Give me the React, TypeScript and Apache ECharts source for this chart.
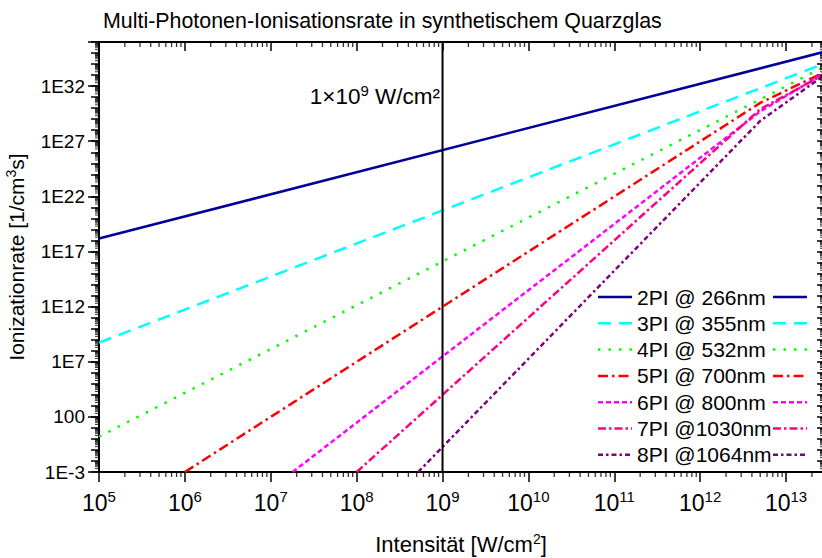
import React, { useEffect, useRef } from "react";
import * as echarts from "echarts";

const seriesNames = [
  "2PI @ 266nm",
  "3PI @ 355nm",
  "4PI @ 532nm",
  "5PI @ 700nm",
  "6PI @ 800nm",
  "7PI @1030nm",
  "8PI @1064nm",
];
const seriesColors = ["#000099", "#00FFFF", "#00FF00", "#FF0000", "#FF00FF", "#FF0080", "#800080"];
const seriesDash: (string | number[])[] = ["solid", [13, 8], [2.5, 8], [10, 4, 2.5, 4], [5, 3], [8, 3, 2.5, 3], [5, 3, 2.5, 3]];
const seriesWidth = [2.5, 2.5, 2.5, 2.5, 2.5, 2.5, 2.5];

// Points (intensity W/cm², rate 1/cm³s)
const rate2PI = [[1e5, 1.5e18], [2.69e13, 1.2e35]];
const rate3PI = [[1e5, 5.4e8], [2.69e13, 1.0e34]];
const rate4PI = [[1e5, 1.6], [2.69e13, 5e33]];
const rate5PI = [[1e6, 1e-3], [5e12, 3e30], [2.69e13, 1.6e33]];
const rate6PI = [[1.8e7, 1e-3], [5e12, 5e29], [2.69e13, 1.3e33]];
const rate7PI = [[1e8, 1e-3], [5e12, 8e29], [2.69e13, 1.0e33]];
const rate8PI = [[5.2e8, 1e-3], [5e12, 7e28], [2.69e13, 8e32]];
const seriesPoints = [rate2PI, rate3PI, rate4PI, rate5PI, rate6PI, rate7PI, rate8PI];

const markerIntensity = [1e9, 1e9];
const markerRate = [1e-3, 1e36];

const xTickExponents = [5, 6, 7, 8, 9, 10, 11, 12, 13];
const yTickLabels = ["1E-3", "100", "1E7", "1E12", "1E17", "1E22", "1E27", "1E32"];

const X_MIN = 5;
const X_MAX = 13.43;
const Y_MIN = -3;
const Y_MAX = 36;

const FONT = "'Liberation Sans', Arial, sans-serif";

function subTicks(lo: number, hi: number): number[] {
  const out: number[] = [];
  for (let n = Math.floor(lo); n <= Math.ceil(hi); n++) {
    for (let k = 2; k <= 9; k++) {
      const v = n + Math.log10(k);
      if (v >= lo && v <= hi) out.push(v);
    }
  }
  return out;
}

export default function App() {
  const ref = useRef<HTMLDivElement>(null);
  useEffect(() => {
    if (!ref.current) return;
    const chart = echarts.init(ref.current, null, { renderer: "svg" });
    const axisLine = { show: true, onZero: false, lineStyle: { color: "#000", width: 2 } };
    const noLine = { show: false, onZero: false };
    const baseX = { type: "value", min: X_MIN, max: X_MAX, gridIndex: 0, splitLine: { show: false } };
    const baseY = { type: "value", min: Y_MIN, max: Y_MAX, gridIndex: 0, splitLine: { show: false } };
    const xSub = subTicks(X_MIN, X_MAX);
    const ySub = subTicks(Y_MIN, Y_MAX);
    const sup = { fontSize: 14, fontFamily: FONT, color: "#000", verticalAlign: "top", lineHeight: 14 };

    const lineSeries = seriesNames.map((name, i) => ({
      name,
      type: "line",
      xAxisIndex: 0,
      yAxisIndex: 0,
      symbol: "none",
      data: seriesPoints[i].map(([x, y]) => [Math.log10(x), Math.log10(y)]),
      lineStyle: { color: seriesColors[i], width: seriesWidth[i], type: seriesDash[i] },
      itemStyle: { color: seriesColors[i] },
      z: 3 + i,
    }));

    const tickSeries = (data: number[][], size: number[], offset: number[]) => ({
      type: "scatter",
      xAxisIndex: 0,
      yAxisIndex: 0,
      symbol: "rect",
      symbolSize: size,
      symbolOffset: offset,
      clip: false,
      silent: true,
      itemStyle: { color: "#000" },
      data,
      z: 12,
    });

    const legendY0 = 297;
    const rowH = 26.3;

    const option: any = {
      animation: false,
      backgroundColor: "#fff",
      title: {
        text: "Multi-Photonen-Ionisationsrate in synthetischem Quarzglas",
        left: 103,
        top: 10,
        padding: 0,
        textStyle: { fontSize: 21.4, fontWeight: "normal", color: "#000", fontFamily: FONT },
      },
      grid: { left: 99, top: 42, right: -1, bottom: 86, containLabel: false, outerBoundsMode: "none" },
      xAxis: [
        {
          ...baseX,
          position: "bottom",
          interval: 1,
          axisLine,
          axisTick: { show: true, length: 10, lineStyle: { color: "#000", width: 1.5 } },
          axisLabel: {
            show: true,
            margin: 17,
            formatter: (v: number) => `{b|10}{s|${xTickExponents[Math.round(v - X_MIN)]}}`,
            rich: {
              b: { fontSize: 23, fontFamily: FONT, color: "#000", lineHeight: 28 },
              s: { ...sup, fontSize: 15, lineHeight: 15 },
            },
          },
          name: "Intensität [W/cm{s|2}]",
          nameLocation: "middle",
          nameGap: 60,
          nameTextStyle: {
            fontSize: 22,
            fontFamily: FONT,
            color: "#000",
            lineHeight: 24,
            rich: { s: { ...sup, fontSize: 14 } },
          },
        },
        {
          ...baseX,
          position: "top",
          interval: 1,
          axisLine,
          axisLabel: { show: false },
          axisTick: { show: true, inside: true, length: 9, lineStyle: { color: "#000", width: 1.5 } },
        },
      ],
      yAxis: [
        {
          ...baseY,
          position: "left",
          interval: 5,
          axisLine,
          axisTick: { show: true, length: 11, lineStyle: { color: "#000", width: 1.5 } },
          axisLabel: {
            show: true,
            margin: 14,
            fontSize: 19,
            fontFamily: FONT,
            color: "#000",
            formatter: (v: number) => yTickLabels[Math.round((v - Y_MIN) / 5)] ?? "",
          },
          name: "Ionizationrate [1/cm{s|3}s]",
          nameLocation: "middle",
          nameRotate: 90,
          nameGap: 55,
          nameTextStyle: {
            fontSize: 21,
            fontFamily: FONT,
            color: "#000",
            lineHeight: 26,
            rich: { s: { ...sup, fontSize: 14 } },
          },
        },
        {
          ...baseY,
          position: "left",
          interval: 1,
          axisLine: noLine,
          axisLabel: { show: false },
          axisTick: { show: true, length: 8, lineStyle: { color: "#000", width: 1.5 } },
        },
        {
          ...baseY,
          position: "right",
          interval: 1,
          axisLine,
          axisLabel: { show: false },
          axisTick: { show: true, inside: true, length: 6, lineStyle: { color: "#000", width: 1.5 } },
        },
      ],
      series: [
        ...lineSeries,
        {
          name: "marker",
          type: "line",
          xAxisIndex: 0,
          yAxisIndex: 0,
          symbol: "none",
          data: markerIntensity.map((x, i) => [Math.log10(x), Math.log10(markerRate[i])]),
          lineStyle: { color: "#000", width: 2 },
          z: 10,
        },
        tickSeries(xSub.map((v) => [v, Y_MIN]), [1.3, 5], [0, 2.5]),
        tickSeries(xSub.map((v) => [v, Y_MAX]), [1.3, 5], [0, 2.5]),
        tickSeries(ySub.map((v) => [X_MIN, v]), [4, 1], [-2, 0]),
        tickSeries(ySub.map((v) => [X_MAX, v]), [3, 1], [-1.5, 0]),
      ],
      graphic: [
        {
          type: "text",
          right: 822 - 440,
          top: 83,
          z: 20,
          style: {
            text: "1×10{s|9} W/cm²",
            fontSize: 22.5,
            fontFamily: FONT,
            fill: "#000",
            lineHeight: 27,
            rich: { s: { fontSize: 15, fontFamily: FONT, fill: "#000", verticalAlign: "top", lineHeight: 15 } },
          },
        },
        ...seriesNames.flatMap((name, i) => {
          const y = legendY0 + i * rowH;
          const st = {
            stroke: seriesColors[i],
            lineWidth: seriesWidth[i],
            lineDash: seriesDash[i] === "solid" ? null : seriesDash[i],
          };
          return [
            { type: "line", z: 20, shape: { x1: 598, y1: y, x2: 632, y2: y }, style: st },
            {
              type: "text",
              z: 20,
              x: 637,
              y: y,
              style: { text: name, fontSize: 21, fontFamily: FONT, fill: "#000", textVerticalAlign: "middle", verticalAlign: "middle" },
            },
            { type: "line", z: 20, shape: { x1: 773, y1: y, x2: 807, y2: y }, style: st },
          ];
        }),
      ],
    };
    chart.setOption(option);
    return () => chart.dispose();
  }, []);
  return <div ref={ref} style={{ position: "fixed", left: 0, top: 0, width: 822, height: 558 }} />;
}
